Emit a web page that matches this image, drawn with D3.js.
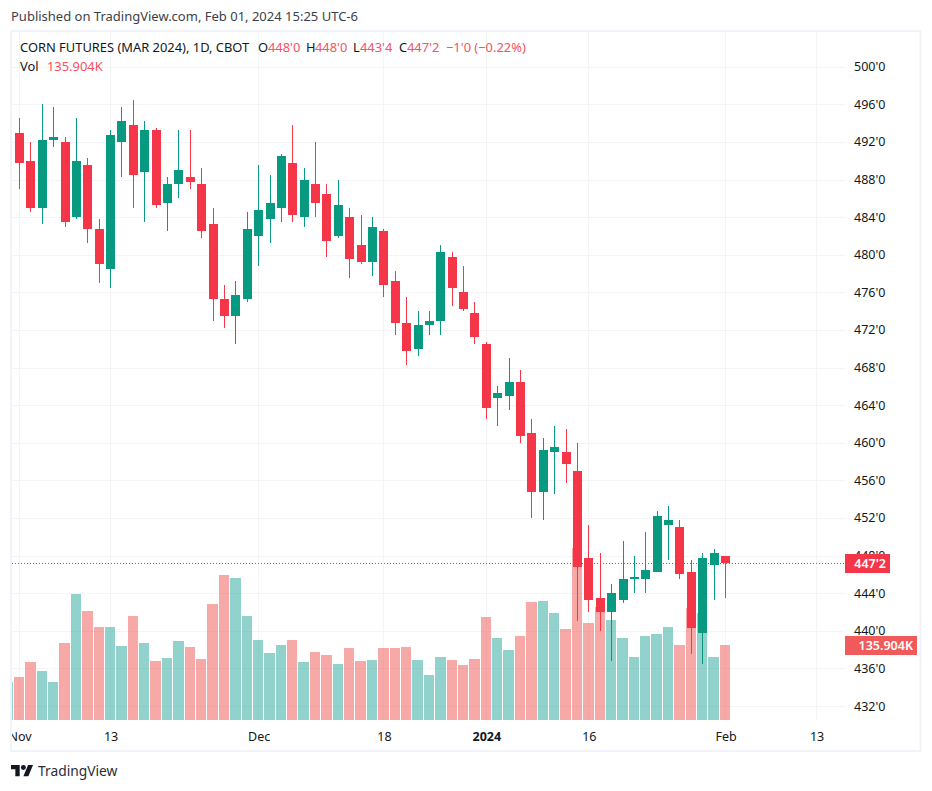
<!DOCTYPE html>
<html>
<head>
<meta charset="utf-8">
<script src="https://cdn.jsdelivr.net/npm/d3@7"></script>
<style>
  html, body { margin: 0; padding: 0; background: #fff; }
  svg { display: block; }
  text { font-family: "Noto Sans", sans-serif; fill: #131722; }
</style>
</head>
<body>
<svg id="chart"></svg>
<script>
// daily bars, Nov 1 2023 .. Feb 1 2024, cents per bushel
const opens = [493,490,485,492.25,492,484,489.5,482.75,478.5,492,493.75,488.75,493.25,485.5,487.5,488.25,487.5,483.25,475.25,473.5,475.25,482,483.75,485,489.75,484,487.5,486.5,482,484,481,479.25,482.5,477.25,472.75,470,472.5,473,479.75,476,473.75,470.5,464.75,465,466.5,461,454.75,459,459,457,447.75,443.5,442,443.25,445.5,445.5,446.25,451.25,451,446.25,439.75,447,448];
const highs = [494.5,492,496,495.75,492.5,494.5,490.25,483.75,493.25,495.75,496.5,494.25,493.5,488.25,493.25,493.25,489.25,485,476.75,477.25,484.5,489.5,488.5,490.75,493.75,489.25,492,487.5,488,485,484.25,484,482.75,478.25,475.5,474,474,481,480.25,478.75,475,470.75,466,469,467.75,462.5,460.5,461.75,461.5,460,451.25,448.25,445,449.5,448,450.5,452.75,453.25,451.75,447.5,448.25,448.75,448];
const lows = [487,484.5,483.25,491.5,483,483.75,481.25,477,476.5,488.25,485,483.5,485,482.5,486,487,481.75,473,472.25,470.5,475,478.75,481.25,483.5,483.5,483,484,479.75,481.75,477.5,479,477.75,475.5,471.5,468.25,469.25,471.5,471.5,474.5,474,470.5,462.5,461.75,463.5,460,452,451.75,454.5,455.75,441,442,440,436.75,443,444,444,446.25,447.5,445.5,437.5,436.5,443.25,443.5];
const closes = [489.75,485,492.25,492.5,483.5,490,482.75,479,492.75,494.25,488.5,493.25,485.25,487.5,489,487.75,482.5,475.25,473.5,475.75,482.75,484.75,485.5,490.5,484.25,488,485.5,481.5,485.25,479.5,479.25,483,476.75,472.75,469.75,472.5,473,480.25,476.5,474.25,471.25,463.75,465.25,466.5,460.75,454.75,459.25,459.5,457.75,446.75,443.25,442,444,445.5,445.75,446.5,452.25,451.75,446,440.25,447.75,448.25,447.25];
// volume in thousands
const volumes = [77.9,105,88.8,68.9,139.5,228.3,197.5,168.5,168.5,134,188.4,139.5,106.9,112.3,143.1,132.3,110.5,210.2,262.7,257.3,188.4,144.9,121.4,135.9,144.9,105.1,123.2,117.8,101.5,130.5,106.9,108.7,130.5,130.5,132.3,108.7,81.5,114.2,108.7,99.7,110.5,186.6,148.6,126.8,152.2,213.8,215.6,193.9,164.9,311.7,175.8,204.8,181.2,148.6,114.2,152.2,155.8,168.5,135.9,202.9,193.9,114.2,135.904];
const prevVolume = 68.9; // bar that is cut off by the left edge

const priceTicks = [500,496,492,488,484,480,476,472,468,464,460,456,452,448,444,440,436,432];
const timeTicks = [0,8,21,32,41,50,62,70];
const timeLabels = ["Nov","13","Dec","18","2024","16","Feb","13"];

const lastClose = 447.25;
const lastVolume = 135.904;

const width = 932, height = 791;
const plot = {left: 12, right: 845, top: 32, bottom: 720};
const red = "#f53649", green = "#089981";
const volRed = "rgba(239,83,80,0.5)", volGreen = "rgba(38,166,154,0.5)";
const gridColor = "#f3f4f6";

const svg = d3.select("#chart").attr("width", width).attr("height", height);

const x = d3.scaleLinear().domain([0, 62]).range([19.5, 725.5]);
const y = d3.scaleLinear().domain([496, 432]).range([104.3, 706]);
const yVol = d3.scaleLinear().domain([0, lastVolume]).range([720, 645]);

// 447.25 -> 447'2
function fmtPrice(p) {
    let whole = Math.floor(p);
    return `${whole}'${Math.round((p - whole) * 8)}`;
}

svg.append("clipPath").attr("id", "plotClip").append("rect")
    .attr("x", plot.left).attr("y", plot.top)
    .attr("width", plot.right - plot.left).attr("height", plot.bottom - plot.top);

// frame
svg.append("rect")
    .attr("x", 11).attr("y", 31).attr("width", 909.5).attr("height", 720)
    .attr("fill", "#fff").attr("stroke", "#f0f3fa").attr("stroke-width", 2);

let g = svg.append("g").attr("clip-path", "url(#plotClip)");

// grid
g.append("g").selectAll("line")
    .data(priceTicks)
    .join("line")
    .attr("x1", plot.left).attr("x2", plot.right)
    .attr("y1", d => Math.round(y(d)) + 0.5).attr("y2", d => Math.round(y(d)) + 0.5)
    .attr("stroke", gridColor);
g.append("g").selectAll("line")
    .data(timeTicks)
    .join("line")
    .attr("x1", d => Math.floor(x(d)) + 0.5).attr("x2", d => Math.floor(x(d)) + 0.5)
    .attr("y1", plot.top).attr("y2", plot.bottom)
    .attr("stroke", gridColor);

// volume
const barLeft = i => Math.round(x(i - 0.5));
g.append("rect")
    .attr("x", barLeft(-1)).attr("y", yVol(prevVolume))
    .attr("width", barLeft(0) - 1 - barLeft(-1)).attr("height", 720 - yVol(prevVolume))
    .attr("fill", volGreen);
g.append("g").selectAll("rect")
    .data(volumes)
    .join("rect")
    .attr("x", (d, i) => barLeft(i))
    .attr("y", d => Math.round(yVol(d)))
    .attr("width", (d, i) => barLeft(i + 1) - 1 - barLeft(i))
    .attr("height", d => 720 - Math.round(yVol(d)))
    .attr("fill", (d, i) => closes[i] >= opens[i] ? volGreen : volRed);

// candles
const candle = g.append("g").selectAll("g")
    .data(opens.map((o, i) => ({i: i, o: o, h: highs[i], l: lows[i], c: closes[i]})))
    .join("g")
    .attr("fill", d => d.c >= d.o ? green : red);
candle.append("rect")
    .attr("x", d => Math.floor(x(d.i)))
    .attr("width", 1)
    .attr("y", d => Math.round(y(d.h)))
    .attr("height", d => Math.round(y(d.l)) - Math.round(y(d.h)));
candle.append("rect")
    .attr("x", d => Math.floor(x(d.i)) - 4)
    .attr("width", 9)
    .attr("y", d => Math.round(y(Math.max(d.o, d.c))))
    .attr("height", d => Math.max(1, Math.round(y(Math.min(d.o, d.c))) - Math.round(y(Math.max(d.o, d.c)))));

// last price line
svg.append("line")
    .attr("x1", plot.left).attr("x2", plot.right)
    .attr("y1", Math.round(y(lastClose)) + 0.5).attr("y2", Math.round(y(lastClose)) + 0.5)
    .attr("stroke", red).attr("stroke-dasharray", "1,2");

// axes
const yAxis = svg.append("g")
    .attr("transform", `translate(${plot.right},0)`)
    .call(d3.axisRight(y).tickValues(priceTicks).tickFormat(fmtPrice).tickSize(0).tickPadding(9));
yAxis.select(".domain").remove();
yAxis.selectAll("text").style("font-size", "12.5px").style("font-family", '"Noto Sans", sans-serif').attr("fill", "#131722");

const xAxis = svg.append("g")
    .attr("transform", "translate(0,729)")
    .call(d3.axisBottom(x).tickValues(timeTicks).tickFormat((d, i) => timeLabels[i]).tickSize(0).tickPadding(3));
xAxis.select(".domain").remove();
xAxis.selectAll("text")
    .style("font-size", "12.5px")
    .style("font-family", '"Noto Sans", sans-serif')
    .style("font-weight", (d, i) => timeLabels[i] === "2024" ? 700 : 400)
    .attr("fill", "#131722");
// "Nov" is cut by the frame on the left
svg.append("rect").attr("x", 0).attr("y", 722).attr("width", 10).attr("height", 28).attr("fill", "#fff");
svg.append("rect").attr("x", 10).attr("y", 722).attr("width", 2).attr("height", 28).attr("fill", "#f0f3fa");

// price and volume tags
function tag(yPos, w, fill, label) {
    svg.append("rect").attr("x", plot.right).attr("y", yPos - 9.5).attr("width", w).attr("height", 19).attr("fill", fill);
    svg.append("text").attr("x", plot.right + w - 4).attr("y", yPos + 4.5).attr("text-anchor", "end")
        .style("font-size", "12.5px").style("font-weight", 600).style("fill", "#fff").text(label);
}
tag(563.5, 45, red, fmtPrice(lastClose));
tag(645.5, 72, "#f05a5a", lastVolume.toFixed(3) + "K");

// header text
svg.append("text").attr("x", 11).attr("y", 21).style("font-size", "13px").style("fill", "#3c3f48")
    .text("Published on TradingView.com, Feb 01, 2024 15:25 UTC-6");

const legendRed = "#f7525f";
const legendParts = [
    {x: 20, t: "CORN FUTURES (MAR 2024), 1D, CBOT", c: "#131722"},
    {x: 258, t: "O", c: "#131722"}, {x: 268, t: fmtPrice(opens[62]), c: legendRed},
    {x: 306, t: "H", c: "#131722"}, {x: 315, t: fmtPrice(highs[62]), c: legendRed},
    {x: 353, t: "L", c: "#131722"}, {x: 360, t: fmtPrice(lows[62]), c: legendRed},
    {x: 399, t: "C", c: "#131722"}, {x: 407, t: fmtPrice(closes[62]), c: legendRed},
    {x: 446, t: "\u22121'0 (\u22120.22%)", c: legendRed}
];
svg.append("g").selectAll("text")
    .data(legendParts)
    .join("text")
    .attr("x", d => d.x).attr("y", 52)
    .style("font-size", "12.9px")
    .style("fill", d => d.c)
    .text(d => d.t);
svg.append("text").attr("x", 20).attr("y", 71).style("font-size", "12.9px").text("Vol");
svg.append("text").attr("x", 47).attr("y", 71).style("font-size", "12.9px").style("fill", legendRed)
    .text(lastVolume.toFixed(3) + "K");

// logo
let logo = svg.append("g").attr("transform", "translate(11,762.5) scale(0.62)").attr("fill", "#131722");
logo.append("path").attr("d", "M14 22H7V11H0V4h14v18zM28 22h-8l7.5-18h8L28 22z");
logo.append("circle").attr("cx", 20).attr("cy", 8).attr("r", 4);
svg.append("text").attr("x", 38).attr("y", 776).style("font-size", "13.8px").style("fill", "#2a2e39").text("TradingView");
</script>
</body>
</html>
